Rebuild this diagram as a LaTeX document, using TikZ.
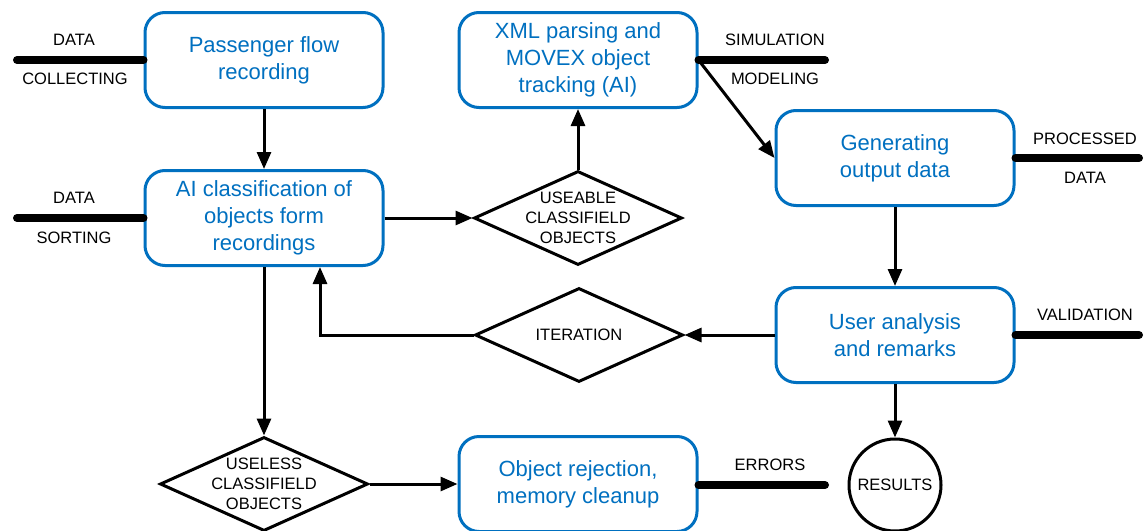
\documentclass[tikz,border=0pt]{standalone}
\usepackage{fontspec}
\setmainfont{Liberation Sans}
\usetikzlibrary{arrows.meta,shapes.geometric}
\definecolor{procblue}{RGB}{0,112,192}
\begin{document}
\begin{tikzpicture}[x=1pt,y=-1pt,
  proc/.style={draw=procblue, line width=3pt, rounded corners=20pt,
    minimum width=238pt, minimum height=95pt, text=procblue, align=center,
    font=\fontsize{22}{27}\selectfont, inner sep=0pt},
  decision/.style={draw, line width=3pt, shape=diamond,
    minimum width=208pt, minimum height=94pt, inner sep=0pt},
  dtext/.style={align=center, font=\fontsize{16.5}{20}\selectfont, inner sep=0pt},
  endpoint/.style={draw, line width=3pt, circle, minimum size=92pt, inner sep=0pt,
    font=\fontsize{16.5}{20}\selectfont},
  flow/.style={line width=3pt, -{Triangle[length=17pt,width=14pt]}},
  store/.style={line width=8pt, line cap=round},
  tag/.style={font=\fontsize{16.5}{20}\selectfont, inner sep=0pt},
]
\useasboundingbox[fill=white] (0,0) rectangle (1148,530);

% process boxes
\node[proc] (B1) at (264,60)  {Passenger flow\\recording};
\node[proc] (B2) at (264,218) {AI classification of\\objects form\\recordings};
\node[proc] (B3) at (578,60)  {XML parsing and\\MOVEX object\\tracking (AI)};
\node[proc] (B4) at (895,158) {Generating\\output data};
\node[proc] (B5) at (895,335) {User analysis\\and remarks};
\node[proc] (B6) at (578,484) {Object rejection,\\memory cleanup};

% decisions
\node[decision] (D1) at (578,218) {};
\node[dtext] (D1t) at (D1) {USEABLE\\CLASSIFIELD\\OBJECTS};
\node[decision] (D2) at (579,335) {};
\node[dtext] (D2t) at (D2) {ITERATION};
\node[decision] (D3) at (264,484) {};
\node[dtext] (D3t) at (D3) {USELESS\\CLASSIFIELD\\OBJECTS};

% terminal
\node[endpoint] (R) at (895,485) {RESULTS};

% control flow
\draw[flow] (B1.south) -- (B2.north);
\draw[flow] (B2.east) -- (D1.west);
\draw[flow] (D1.north) -- (B3.south);
\draw[flow] (B3.east) -- (B4.west);
\draw[flow] (B4.south) -- (B5.north);
\draw[flow] (B5.west) -- (D2.east);
\draw[flow] (D2.west) -| ([xshift=56pt]B2.south);
\draw[flow] (B2.south) -- (D3.north);
\draw[flow] (D3.east) -- (B6.west);
\draw[flow] (B5.south) -- (R.north);

% data lines
\coordinate (inA) at (17,60);
\coordinate (inB) at (17,218);
\coordinate (outC) at (825,60);
\coordinate (outD) at (1139,158);
\coordinate (outE) at (1139,335);
\coordinate (outF) at (825,485);
\draw[store] (inA) -- (B1.west);
\draw[store] (inB) -- (B2.west);
\draw[store] (B3.east) -- (outC);
\draw[store] (B4.east) -- (outD);
\draw[store] (B5.east) -- (outE);
\draw[store] ([yshift=-1pt]B6.east) -- (outF);

% data line labels
\node[tag] (tA1) at (74,40)   {DATA};
\node[tag] (tA2) at (75,79)   {COLLECTING};
\node[tag] (tB1) at (74,198)  {DATA};
\node[tag] (tB2) at (74,238)  {SORTING};
\node[tag] (tC1) at (775,40)  {SIMULATION};
\node[tag] (tC2) at (775,79)  {MODELING};
\node[tag] (tD1) at (1085,139) {PROCESSED};
\node[tag] (tD2) at (1085,178) {DATA};
\node[tag] (tE1) at (1085,315) {VALIDATION};
\node[tag] (tF1) at (770,465) {ERRORS};
\end{tikzpicture}
\end{document}
